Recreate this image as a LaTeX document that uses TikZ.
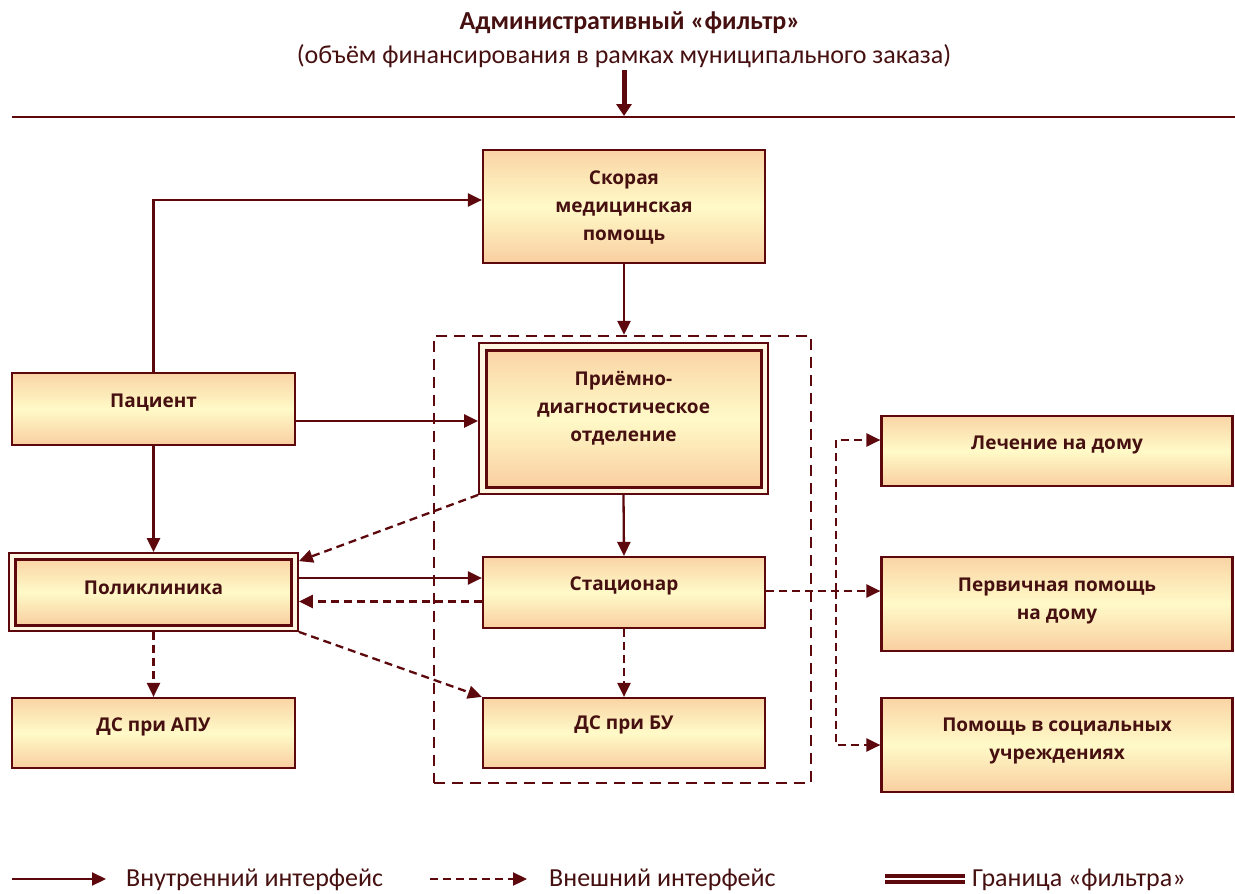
\documentclass[tikz,border=0pt]{standalone}
\usepackage{fontspec}
\setmainfont{Open Sans}
\newfontfamily\carl{Carlito}
\usetikzlibrary{arrows.meta}
\definecolor{dk}{RGB}{92,8,12}
\definecolor{tx}{RGB}{70,16,16}
\definecolor{ctop}{RGB}{250,212,165}
\definecolor{cmid}{RGB}{255,250,200}
\definecolor{cbot}{RGB}{249,206,160}
\definecolor{cream}{RGB}{255,246,225}
\tikzset{
  box/.style={draw=dk, line width=2.2pt, top color=ctop, bottom color=cbot, middle color=cmid,
    align=center, inner sep=0pt, text=tx, text depth=17pt,
    font=\fontsize{19}{28}\selectfont\bfseries},
  outerbox/.style={draw=dk, line width=1.8pt, fill=cream, inner sep=0pt},
  conn/.style={draw=dk, line width=2.3pt, -{Triangle[length=14pt,width=13pt]}},
  dconn/.style={conn, dash pattern=on 8pt off 5pt},
  legtext/.style={anchor=west, text=tx, font=\carl\fontsize{26}{28}\selectfont, inner sep=0pt},
}
\begin{document}
\begin{tikzpicture}[x=1pt,y=-1pt]
\useasboundingbox (0,0) rectangle (1235,894);
% title
\node[text=tx, font=\carl\fontsize{26}{28}\selectfont\bfseries] (title) at (630,23) {Административный «фильтр»};
\node[text=tx, font=\carl\fontsize{26}{28}\selectfont] (subtitle) at (624,56) {(объём финансирования в рамках муниципального заказа)};
\coordinate (ta) at (624,70);
\coordinate (tb) at (624,116);
\draw[draw=dk, line width=5pt, -{Triangle[length=12pt,width=15pt]}] (ta) -- (tb);
\coordinate (hl) at (12,117);
\coordinate (hr) at (1235,117);
\draw[dk, line width=2.2pt] (hl) -- (hr);

% filter border
\node[draw=dk, line width=2.3pt, dash pattern=on 11pt off 7pt, minimum width=377pt, minimum height=447pt, inner sep=0pt] (filter) at (622.5,559.5) {};

% boxes
\node[box, text depth=1pt, minimum width=282pt, minimum height=113pt] (skor) at (624,206.5) {Скорая\\медицинская\\помощь};
\node[box, minimum width=283pt, minimum height=72pt] (pac) at (153.5,409) {Пациент};
\node[outerbox, minimum width=289pt, minimum height=151pt] (priem) at (623.5,418.5) {};
\node[box, text depth=25pt, line width=3pt, minimum width=275pt, minimum height=137pt] (priemin) at (623.5,418.5) {Приёмно-\\диагностическое\\отделение};
\node[outerbox, minimum width=289pt, minimum height=78pt] (poli) at (153.5,592) {};
\node[box, text depth=9pt, line width=3pt, minimum width=276pt, minimum height=66pt] (poliin) at (153.5,592) {Поликлиника};
\node[box, minimum width=282pt, minimum height=71pt] (stac) at (624,592.5) {Стационар};
\node[box, minimum width=283pt, minimum height=70pt] (dsapu) at (153.5,733) {ДС при АПУ};
\node[box, text depth=20pt, minimum width=282pt, minimum height=70pt] (dsbu) at (624,733) {ДС при БУ};
\node[box, minimum width=351pt, minimum height=70pt] (lech) at (1057,451) {Лечение на дому};
\node[box, text depth=11pt, minimum width=351pt, minimum height=94pt] (perv) at (1057,604) {Первичная помощь\\на дому};
\node[box, text depth=13pt, minimum width=351pt, minimum height=94pt] (pom) at (1057,745) {Помощь в социальных\\учреждениях};

% connectors
\draw[conn] (pac.north) |- ([yshift=6.5pt]skor.west);
\draw[conn] ([yshift=-12pt]pac.east) coordinate (a1) -- (a1 -| priem.west);
\draw[conn] (pac.south) -- (poli.north);
\draw[conn] (skor.south) -- (skor.south |- filter.north);
\draw[conn] (priem.south) -- (stac.north);
\draw[dconn] (priem.south west) -- ([yshift=-9pt]poli.north east);
\draw[conn] ([yshift=14pt]poli.east) coordinate (a2) -- (a2 -| stac.west);
\draw[dconn] ([yshift=-9pt]stac.west) coordinate (a3) -- (a3 -| poli.east);
\draw[dconn] (poli.south east) -- (dsbu.north west);
\draw[dconn] (stac.south) -- (dsbu.north);
\draw[dconn] (poli.south) -- (dsapu.north);
\draw[dconn] ([yshift=1.5pt]stac.east) coordinate (a4) -- (a4 -| perv.west);
\coordinate (br) at (836,591);
\draw[dconn] (br) |- ([yshift=11pt]lech.west);
\draw[dconn] (br) |- (pom.west);

% legend
\coordinate (l1a) at (12,879);
\coordinate (l1b) at (106,879);
\draw[conn] (l1a) -- (l1b);
\node[legtext] (lt1) at (126,880) {Внутренний интерфейс};
\coordinate (l2a) at (430,879);
\coordinate (l2b) at (527,879);
\draw[dconn] (l2a) -- (l2b);
\node[legtext] (lt2) at (549,880) {Внешний интерфейс};
\coordinate (l3a) at (885,879);
\coordinate (l3b) at (965,879);
\draw[draw=dk, double=white, double distance=2.5pt, line width=3.5pt] (l3a) -- (l3b);
\node[legtext] (lt3) at (972,880) {Граница «фильтра»};
\end{tikzpicture}
\end{document}
